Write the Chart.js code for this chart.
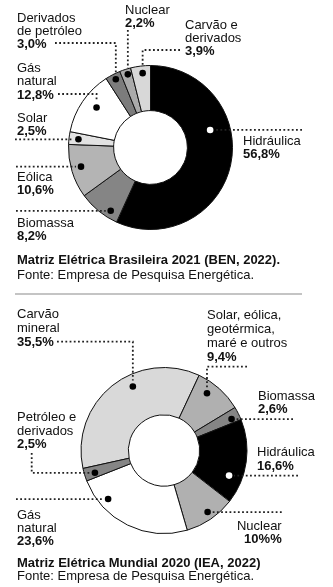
<!DOCTYPE html>
<html lang="pt-BR">
<head>
<meta charset="utf-8">
<script src="https://cdn.jsdelivr.net/npm/chart.js@4.4.1/dist/chart.umd.min.js"></script>
<style>
  html, body { margin: 0; padding: 0; background: #fff; }
  body { width: 333px; height: 587px; position: relative; overflow: hidden;
         font-family: "Liberation Sans", Arial, sans-serif; color: #111; }
  .layer { position: absolute; left: 0; top: 0; width: 333px; height: 587px; }
  .caption { position: absolute; left: 17px; font-size: 13px; white-space: nowrap; }
  #capBr { top: 252px; line-height: 15px; }
  #capWorld { top: 557px; line-height: 12.5px; }
  #rule { position: absolute; left: 15px; top: 293px; width: 287px; height: 2px; background: #c4c4c4; }
</style>
</head>
<body>
<div class="layer"><canvas id="brChart"></canvas></div>
<div class="layer"><canvas id="worldChart"></canvas></div>
<div id="capBr" class="caption"><b>Matriz Elétrica Brasileira 2021 (BEN, 2022).</b><br>Fonte: Empresa de Pesquisa Energética.</div>
<div id="rule"></div>
<div id="capWorld" class="caption"><b>Matriz Elétrica Mundial 2020 (IEA, 2022)</b><br>Fonte: Empresa de Pesquisa Energética.</div>
<script>
// Brasil 2021 - sentido horário a partir do topo
const brCategories = ["Hidráulica", "Biomassa", "Eólica", "Solar", "Gás\nnatural", "Derivados\nde petróleo", "Nuclear", "Carvão e\nderivados"];
const brValues = [56.8, 8.2, 10.6, 2.5, 12.8, 3.0, 2.2, 3.9];
const brValueLabels = ["56,8%", "8,2%", "10,6%", "2,5%", "12,8%", "3,0%", "2,2%", "3,9%"];

// Mundo 2020
const worldCategories = ["Carvão\nmineral", "Solar, eólica,\ngeotérmica,\nmaré e outros", "Biomassa", "Hidráulica", "Nuclear", "Gás\nnatural", "Petróleo e\nderivados"];
const worldValues = [35.5, 9.4, 2.6, 16.6, 10, 23.6, 2.5];
const worldValueLabels = ["35,5%", "9,4%", "2,6%", "16,6%", "10%%", "23,6%", "2,5%"];

const brColors = ["#000000", "#858585", "#b4b4b4", "#e2e2e2", "#ffffff", "#7c7c7c", "#aaaaaa", "#d8d8d8"];
const worldColors = ["#d9d9d9", "#b0b0b0", "#858585", "#000000", "#b0b0b0", "#ffffff", "#858585"];

// posição dos rótulos e das linhas pontilhadas (dot = [fração do ângulo, fração do raio])
const brLayout = [
  { x: 243, y: 140, dot: [0.36, 0.56], white: true, lead: { mode: "h", x: 302 } },
  { x: 17, y: 222.3, dot: [0.26, 0.84], lead: { mode: "h", x: 16 } },
  { x: 17, y: 176, dot: [0.54, 0.78], lead: { mode: "h", x: 16 } },
  { x: 17, y: 117, dot: [0.48, 0.79], lead: { mode: "h", x: 15 } },
  { x: 17, y: 67.5, dot: [0.55, 0.67], lead: { mode: "hv", x: 58, y: 94 } },
  { x: 17, y: 17, dot: [0.54, 0.88], lead: { mode: "hv", x: 55, y: 43 } },
  { x: 125, y: 9.5, dot: [0.6, 0.88], lead: { mode: "v", y: 30 } },
  { x: 185, y: 24, dot: [0.57, 0.84], lead: { mode: "hv", x: 180, y: 50 } }
];
const worldLayout = [
  { x: 17, y: 313.3, lh: 13.8, dot: [0.6, 0.75], lead: { mode: "hv", x: 57, y: 341.7 } },
  { x: 207, y: 314.5, lh: 13.8, dot: [0.35, 0.76], lead: { mode: "hv", x: 247, y: 366.7 } },
  { x: 258, y: 395.5, dot: [0.67, 0.82], lead: { mode: "h", x: 293 } },
  { x: 257, y: 451.7, dot: [0.72, 0.72], white: true, lead: { mode: "h", x: 298 } },
  { x: 281.7, y: 525, align: "right", dot: [0.47, 0.84], lead: { mode: "h", x: 281.7 } },
  { x: 17, y: 514, dot: [0.77, 0.81], lead: { mode: "h", x: 16 } },
  { x: 17, y: 416.7, dot: [0.4, 0.78], lead: { mode: "vh", x: 31.7, y: 453 } }
];

const sliceLabels = {
  id: "sliceLabels",
  afterDatasetsDraw(chart, args, opts) {
    const ctx = chart.ctx;
    const arcs = chart.getDatasetMeta(0).data;
    const names = chart.data.labels;
    ctx.save();
    arcs.forEach((arc, i) => {
      const L = opts.layout[i];
      const p = arc.getProps(["x", "y", "startAngle", "endAngle", "innerRadius", "outerRadius"], true);
      const a = p.startAngle + L.dot[0] * (p.endAngle - p.startAngle);
      const r = p.innerRadius + L.dot[1] * (p.outerRadius - p.innerRadius);
      const dot = { x: p.x + r * Math.cos(a), y: p.y + r * Math.sin(a) };

      // linha pontilhada
      ctx.strokeStyle = "#222";
      ctx.lineWidth = 1.8;
      ctx.setLineDash([1.8, 2.4]);
      ctx.beginPath();
      const ld = L.lead;
      if (ld.mode === "h") {
        ctx.moveTo(ld.x, dot.y);
        ctx.lineTo(dot.x + (ld.x < dot.x ? -5 : 5), dot.y);
      } else if (ld.mode === "hv") {
        ctx.moveTo(ld.x, ld.y);
        ctx.lineTo(dot.x, ld.y);
        ctx.lineTo(dot.x, dot.y - 6);
      } else if (ld.mode === "v") {
        ctx.moveTo(dot.x, ld.y);
        ctx.lineTo(dot.x, dot.y - 6);
      } else if (ld.mode === "vh") {
        ctx.moveTo(ld.x, ld.y);
        ctx.lineTo(ld.x, dot.y);
        ctx.lineTo(dot.x - 5, dot.y);
      }
      ctx.stroke();
      ctx.setLineDash([]);

      ctx.fillStyle = L.white ? "#fff" : "#000";
      ctx.beginPath();
      ctx.arc(dot.x, dot.y, 3.3, 0, Math.PI * 2);
      ctx.fill();

      // texto
      const lines = names[i].split("\n");
      const lh = L.lh || 13.3;
      ctx.fillStyle = "#111";
      ctx.textAlign = L.align || "left";
      ctx.textBaseline = "alphabetic";
      ctx.font = '13px "Liberation Sans", Arial, sans-serif';
      lines.forEach((t, k) => ctx.fillText(t, L.x, L.y + k * lh + 4.6));
      ctx.font = 'bold 13px "Liberation Sans", Arial, sans-serif';
      ctx.fillText(opts.valueLabels[i], L.x, L.y + lines.length * lh + 4.6);
    });
    ctx.restore();
  }
};

function makeDonut(id, names, values, valueLabels, colors, layout, extra) {
  return new Chart(document.getElementById(id), {
    type: "doughnut",
    data: {
      labels: names,
      datasets: [{ data: values, backgroundColor: colors, borderColor: "#111", borderWidth: 1 }]
    },
    options: {
      responsive: true,
      maintainAspectRatio: false,
      animation: false,
      events: [],
      rotation: extra.rotation,
      cutout: extra.cutout,
      layout: { padding: extra.padding },
      plugins: {
        legend: { display: false },
        tooltip: { enabled: false },
        sliceLabels: { layout, valueLabels }
      }
    },
    plugins: [sliceLabels]
  });
}

makeDonut("brChart", brCategories, brValues, brValueLabels, brColors, brLayout, {
  rotation: 0, cutout: "45%",
  padding: { left: 68, right: 100, top: 65, bottom: 357 }
});

makeDonut("worldChart", worldCategories, worldValues, worldValueLabels, worldColors, worldLayout, {
  rotation: -102.5, cutout: "43%",
  padding: { left: 80.5, right: 85.5, top: 367, bottom: 53 }
});
</script>
</body>
</html>
